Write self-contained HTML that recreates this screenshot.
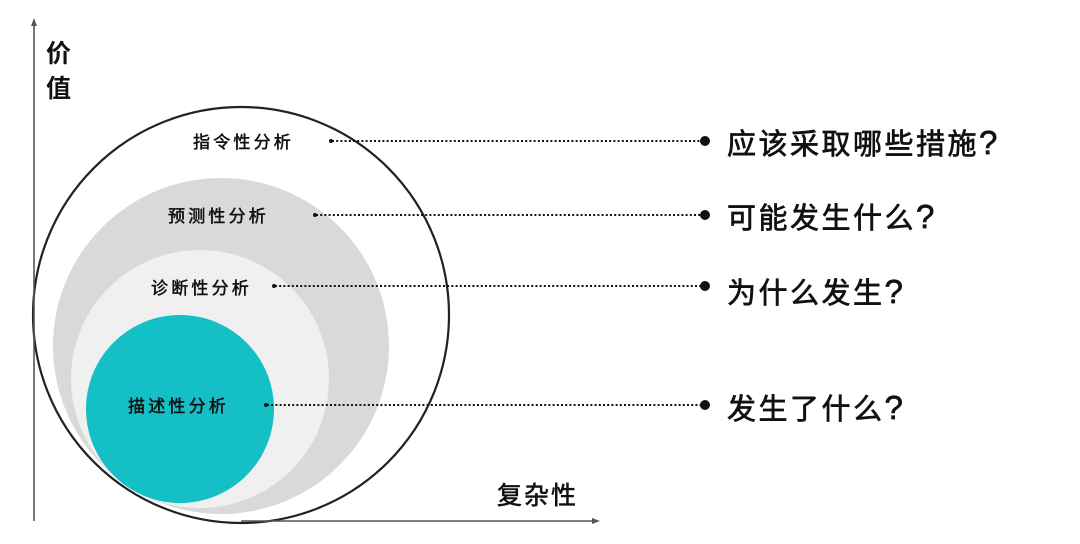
<!DOCTYPE html>
<html><head><meta charset="utf-8"><style>
html,body{margin:0;padding:0;background:#fff;}
svg text{font-family:"Liberation Sans","Noto Sans CJK SC",sans-serif;}
</style></head><body>
<svg width="1080" height="539" viewBox="0 0 1080 539" xmlns="http://www.w3.org/2000/svg">
<rect width="1080" height="539" fill="#fff"/>
<circle cx="221" cy="346" r="168" fill="#d9d9d9"/>
<circle cx="200" cy="379" r="129" fill="#f0f0f0"/>
<circle cx="180" cy="409" r="94" fill="#14c0c6"/>
<circle cx="241" cy="315" r="208" fill="none" stroke="#222" stroke-width="2.2"/>
<line x1="34" y1="24" x2="34" y2="521" stroke="#555" stroke-width="1.6"/>
<polygon points="34,18 31,26 37,26" fill="#555"/>
<line x1="241" y1="521" x2="594" y2="521" stroke="#555" stroke-width="1.6"/>
<polygon points="600,521 592,518 592,524" fill="#555"/>
<text x="46" y="62" font-size="25" font-weight="bold" fill="#111">价</text>
<text x="46" y="97" font-size="25" font-weight="bold" fill="#111">值</text>
<text x="497" y="504" font-size="25" fill="#111" stroke="#111" stroke-width="0.6" letter-spacing="2">复杂性</text>
<g font-size="17" fill="#111" stroke="#111" stroke-width="0.5" letter-spacing="3.2">
<text x="193" y="148">指令性分析</text>
<text x="168" y="222">预测性分析</text>
<text x="151" y="294">诊断性分析</text>
<text x="128" y="412">描述性分析</text>
</g>
<g stroke="#111" stroke-width="2" stroke-dasharray="2,2.2" fill="none">
<line x1="332" y1="141" x2="702" y2="141"/>
<line x1="316" y1="215" x2="702" y2="215"/>
<line x1="275" y1="286" x2="702" y2="286"/>
<line x1="267" y1="405" x2="702" y2="405"/>
</g>
<g fill="#111">
<circle cx="331" cy="141" r="2"/><circle cx="315" cy="215" r="2"/><circle cx="274" cy="286" r="2"/><circle cx="266" cy="405" r="2"/>
<circle cx="705" cy="141" r="5"/><circle cx="705" cy="215" r="5"/><circle cx="705" cy="286" r="5"/><circle cx="705" cy="405" r="5"/>
</g>
<g font-size="29" fill="#111" stroke="#111" stroke-width="0.7" letter-spacing="2.5">
<text x="727" y="154">应该采取哪些措施<tspan font-size="33">?</tspan></text>
<text x="727" y="228">可能发生什么<tspan font-size="33">?</tspan></text>
<text x="727" y="303">为什么发生<tspan font-size="33">?</tspan></text>
<text x="727" y="419">发生了什么<tspan font-size="33">?</tspan></text>
</g>
</svg>
</body></html>
